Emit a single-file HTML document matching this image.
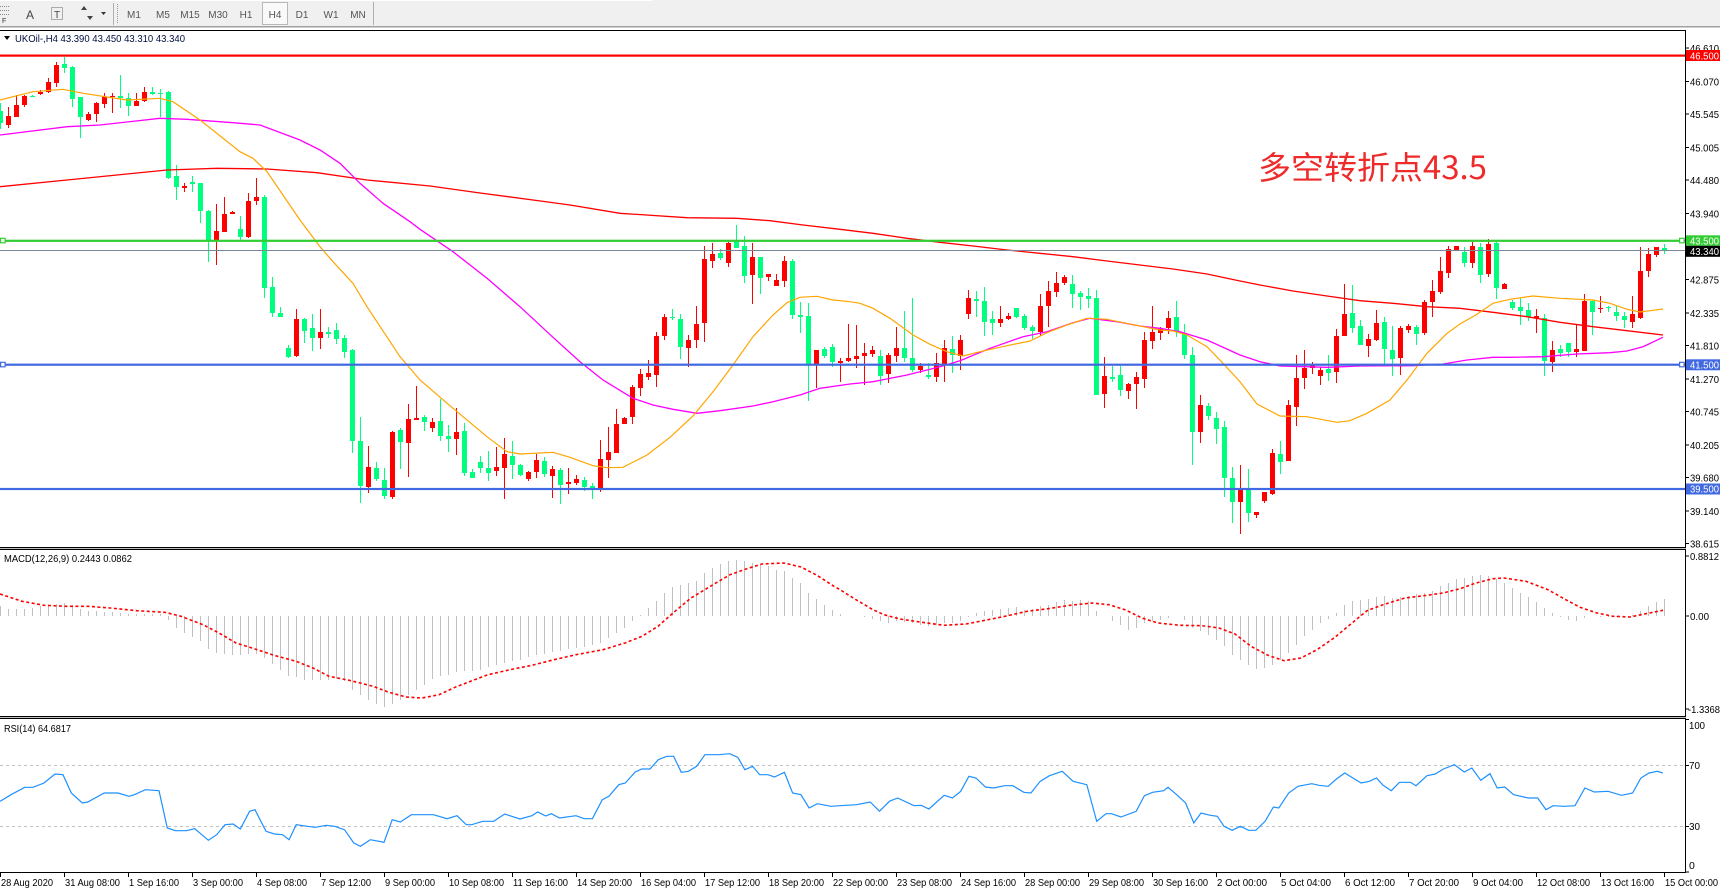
<!DOCTYPE html>
<html><head><meta charset="utf-8"><style>
html,body{margin:0;padding:0;background:#fff;overflow:hidden}
svg{display:block}
text{font-family:"Liberation Sans","Noto Sans CJK SC",sans-serif}
</style></head><body>
<svg width="1720" height="893" viewBox="0 0 1720 893" xmlns="http://www.w3.org/2000/svg">
<rect x="0" y="0" width="1720" height="893" fill="#fff"/>
<!-- toolbar -->
<rect x="0" y="0" width="1720" height="26" fill="#f0f0f0"/>
<rect x="0" y="0" width="652" height="1" fill="#fff"/>
<rect x="0" y="26" width="1720" height="1.5" fill="#a0a0a0"/>
<g stroke="#888" stroke-width="1" stroke-dasharray="1 1">
<path d="M0 6.5H9M0 10.5H9M0 14.5H9"/>
</g>
<text x="2" y="23" font-size="7" fill="#333">F</text>
<text x="26" y="19" font-size="12" fill="#444">A</text>
<rect x="51.5" y="7.5" width="11" height="12" fill="none" stroke="#666" stroke-dasharray="1 1"/>
<text x="54" y="18" font-size="10" fill="#444">T</text>
<path d="M84 6l3 4h-6zM90 20l3-4h-6z" fill="#444"/>
<path d="M101 12h5l-2.5 3z" fill="#333"/>
<path d="M113.5 3V25" stroke="#b0b0b0"/>
<path d="M117.5 4V24" stroke="#999" stroke-dasharray="1 1"/>
<rect x="262.5" y="2.5" width="25" height="22" fill="#f9f9f9" stroke="#b8b8b8"/>
<g font-size="10" fill="#555" text-anchor="middle">
<text x="134" y="18">M1</text><text x="163" y="18">M5</text><text x="190" y="18">M15</text><text x="218" y="18">M30</text><text x="246" y="18">H1</text><text x="275" y="18">H4</text><text x="302" y="18">D1</text><text x="331" y="18">W1</text><text x="358" y="18">MN</text>
</g>
<path d="M373.5 2V25" stroke="#b0b0b0"/>

<!-- frame -->
<path d="M0 30.5H1686" stroke="#000"/>
<path d="M1685.5 30V873" stroke="#000"/>
<path d="M0 547.5H1686M0 549.5H1686" stroke="#000"/>
<path d="M0 548.5H1686" stroke="#c0c0c0"/>
<path d="M0 716.5H1686M0 718.5H1686" stroke="#000"/>
<path d="M0 717.5H1686" stroke="#c0c0c0"/>
<path d="M0 872.5H1686" stroke="#000"/>

<!-- header label -->
<path d="M4 36h6l-3 4z" fill="#000"/>
<text x="15" y="42" font-size="10.5" fill="#001040" textLength="170" lengthAdjust="spacingAndGlyphs">UKOil-,H4  43.390 43.450 43.310 43.340</text>

<!-- candles red -->
<path stroke="#ff0000" stroke-width="1" fill="none" d="M8.5 107V128M16.5 95V117M24.5 95V107M40.5 90V95M48.5 78V93M56.5 62V87M88.5 112V121M96.5 102V122M104.5 93V108M112.5 93V113M136.5 93V106M144.5 87V102M184.5 183V192M216.5 204V265M224.5 197V232M232.5 211V214M248.5 193V238M256.5 178V205M296.5 309V357M320.5 309V349M368.5 446V493M392.5 431V499M408.5 404V477M416.5 386V420M432.5 418V432M456.5 408V455M496.5 447V476M504.5 438V499M528.5 471V481M536.5 454V478M552.5 466V498M568.5 468V494M576.5 475V485M600.5 440V492M608.5 427V478M616.5 409V453M624.5 417V424M632.5 385V424M640.5 369V396M648.5 360V380M656.5 332V387M664.5 314V340M688.5 335V367M696.5 306V348M704.5 246V342M712.5 243V268M728.5 242V267M752.5 243V304M768.5 274V281M776.5 274V286M784.5 256V287M816.5 350V388M840.5 358V382M848.5 324V362M856.5 325V368M864.5 343V385M872.5 346V357M888.5 353V383M896.5 327V362M920.5 363V373M936.5 353V382M944.5 340V382M960.5 335V370M968.5 290V319M1000.5 306V327M1008.5 313V320M1040.5 294V336M1048.5 281V327M1056.5 272V297M1064.5 275V285M1104.5 357V408M1128.5 383V399M1136.5 372V409M1144.5 332V388M1152.5 306V349M1160.5 327V340M1168.5 311V334M1200.5 395V443M1240.5 465V534M1256.5 512V518M1264.5 492V503M1272.5 449V495M1288.5 400V461M1296.5 355V426M1304.5 350V389M1312.5 362V374M1320.5 367V385M1336.5 329V383M1344.5 284V336M1368.5 334V357M1376.5 310V341M1400.5 326V375M1408.5 324V333M1424.5 300V335M1432.5 280V317M1440.5 257V294M1448.5 246V278M1456.5 246V251M1472.5 242V268M1488.5 239V277M1504.5 283V289M1536.5 309V333M1552.5 341V372M1576.5 324V357M1584.5 294V351M1600.5 296V313M1632.5 296V328M1640.5 247V319M1648.5 248V277M1656.5 247V257"/>
<path fill="#ff0000" d="M6 116h5V125h-5zM14 105h5V117h-5zM22 96h5V105h-5zM38 92h5V94h-5zM46 82h5V92h-5zM54 65h5V83h-5zM86 114h5V120h-5zM94 103h5V114h-5zM102 97h5V104h-5zM110 96h5V97h-5zM134 101h5V106h-5zM142 92h5V101h-5zM182 186h5V188h-5zM214 231h5V240h-5zM222 214h5V232h-5zM230 212h5V214h-5zM246 201h5V237h-5zM254 197h5V201h-5zM294 319h5V356h-5zM318 332h5V338h-5zM366 467h5V487h-5zM390 432h5V497h-5zM406 419h5V443h-5zM414 418h5V420h-5zM430 422h5V428h-5zM454 432h5V439h-5zM494 467h5V471h-5zM502 454h5V468h-5zM526 472h5V479h-5zM534 460h5V472h-5zM550 469h5V476h-5zM566 482h5V484h-5zM574 479h5V483h-5zM598 459h5V489h-5zM606 452h5V460h-5zM614 424h5V453h-5zM622 418h5V424h-5zM630 387h5V417h-5zM638 374h5V388h-5zM646 373h5V377h-5zM654 336h5V375h-5zM662 317h5V336h-5zM686 340h5V348h-5zM694 324h5V340h-5zM702 259h5V323h-5zM710 254h5V261h-5zM726 243h5V263h-5zM750 257h5V275h-5zM766 274h5V277h-5zM774 280h5V286h-5zM782 261h5V281h-5zM814 350h5V364h-5zM838 361h5V363h-5zM846 358h5V361h-5zM854 356h5V359h-5zM862 353h5V356h-5zM870 350h5V354h-5zM886 355h5V374h-5zM894 348h5V356h-5zM918 366h5V370h-5zM934 363h5V377h-5zM942 348h5V364h-5zM958 340h5V356h-5zM966 298h5V314h-5zM998 319h5V323h-5zM1006 316h5V319h-5zM1038 306h5V332h-5zM1046 291h5V306h-5zM1054 283h5V292h-5zM1062 277h5V283h-5zM1102 376h5V394h-5zM1126 384h5V391h-5zM1134 377h5V384h-5zM1142 340h5V379h-5zM1150 332h5V341h-5zM1158 328h5V333h-5zM1166 318h5V328h-5zM1198 405h5V432h-5zM1238 489h5V502h-5zM1254 512h5V515h-5zM1262 492h5V501h-5zM1270 453h5V494h-5zM1286 405h5V461h-5zM1294 378h5V407h-5zM1302 368h5V378h-5zM1310 365h5V368h-5zM1318 370h5V376h-5zM1334 336h5V372h-5zM1342 314h5V336h-5zM1366 339h5V346h-5zM1374 323h5V340h-5zM1398 328h5V358h-5zM1406 326h5V330h-5zM1422 302h5V333h-5zM1430 291h5V302h-5zM1438 271h5V292h-5zM1446 249h5V273h-5zM1454 246h5V250h-5zM1470 246h5V263h-5zM1486 244h5V274h-5zM1502 284h5V289h-5zM1534 316h5V318h-5zM1550 350h5V362h-5zM1574 349h5V352h-5zM1582 301h5V351h-5zM1598 308h5V309h-5zM1630 314h5V322h-5zM1638 271h5V318h-5zM1646 254h5V271h-5zM1654 247h5V255h-5z"/>
<!-- candles green -->
<path stroke="#00ff7f" stroke-width="1" fill="none" d="M0.5 103V129M32.5 95V97M64.5 57V73M72.5 66V107M80.5 97V138M120.5 75V108M128.5 93V116M152.5 87V95M160.5 89V117M168.5 91V179M176.5 165V200M192.5 176V192M200.5 183V223M208.5 210V262M240.5 216V240M264.5 195V298M272.5 277V317M280.5 307V317M288.5 345V358M304.5 318V343M312.5 314V351M328.5 327V338M336.5 323V344M344.5 335V358M352.5 349V453M360.5 417V503M376.5 462V481M384.5 468V499M400.5 428V469M424.5 415V431M440.5 399V441M448.5 425V452M464.5 423V476M472.5 469V478M480.5 456V473M488.5 451V481M512.5 441V479M520.5 464V476M544.5 457V477M560.5 468V504M584.5 477V491M592.5 483V499M672.5 309V320M680.5 314V359M720.5 249V260M736.5 225V248M744.5 236V283M760.5 257V294M792.5 259V319M800.5 302V333M808.5 303V401M824.5 347V358M832.5 344V367M880.5 350V385M904.5 311V362M912.5 298V372M928.5 363V379M952.5 336V373M976.5 291V317M984.5 287V336M992.5 311V335M1016.5 308V318M1024.5 314V330M1032.5 325V339M1072.5 275V308M1080.5 291V310M1088.5 288V308M1096.5 290V395M1112.5 366V382M1120.5 366V396M1176.5 301V337M1184.5 324V359M1192.5 347V465M1208.5 403V420M1216.5 412V444M1224.5 421V497M1232.5 467V523M1248.5 469V522M1280.5 441V474M1328.5 355V381M1352.5 285V333M1360.5 320V345M1384.5 317V364M1392.5 326V376M1416.5 325V345M1464.5 247V267M1480.5 243V283M1496.5 242V299M1512.5 300V310M1520.5 298V325M1528.5 303V321M1544.5 314V376M1560.5 345V357M1568.5 343V357M1592.5 300V335M1608.5 306V312M1616.5 305V321M1624.5 312V328M1664.5 244V254"/>
<path fill="#00ff7f" d="M-2 111h5V123h-5zM30 96h5V97h-5zM62 64h5V68h-5zM70 67h5V99h-5zM78 97h5V117h-5zM118 96h5V98h-5zM126 98h5V106h-5zM150 92h5V94h-5zM158 93h5V94h-5zM166 92h5V178h-5zM174 176h5V187h-5zM190 182h5V184h-5zM198 183h5V211h-5zM206 211h5V240h-5zM238 229h5V237h-5zM262 197h5V288h-5zM270 287h5V313h-5zM278 313h5V317h-5zM286 348h5V357h-5zM302 319h5V331h-5zM310 328h5V338h-5zM326 332h5V334h-5zM334 330h5V339h-5zM342 338h5V352h-5zM350 350h5V441h-5zM358 441h5V486h-5zM374 468h5V479h-5zM382 480h5V496h-5zM398 430h5V442h-5zM422 417h5V422h-5zM438 421h5V436h-5zM446 436h5V439h-5zM462 431h5V473h-5zM470 472h5V478h-5zM478 462h5V468h-5zM486 468h5V473h-5zM510 456h5V465h-5zM518 465h5V475h-5zM542 461h5V474h-5zM558 470h5V485h-5zM582 480h5V487h-5zM590 486h5V489h-5zM670 317h5V318h-5zM678 319h5V347h-5zM718 253h5V258h-5zM734 241h5V248h-5zM742 246h5V276h-5zM758 257h5V278h-5zM790 261h5V315h-5zM798 315h5V317h-5zM806 316h5V364h-5zM822 349h5V356h-5zM830 347h5V362h-5zM878 356h5V376h-5zM902 348h5V358h-5zM910 358h5V370h-5zM926 375h5V377h-5zM950 349h5V355h-5zM974 299h5V301h-5zM982 301h5V322h-5zM990 319h5V323h-5zM1014 308h5V317h-5zM1022 316h5V328h-5zM1030 327h5V331h-5zM1070 284h5V294h-5zM1078 293h5V297h-5zM1086 296h5V299h-5zM1094 298h5V395h-5zM1110 377h5V379h-5zM1118 375h5V390h-5zM1174 317h5V332h-5zM1182 333h5V355h-5zM1190 355h5V432h-5zM1206 406h5V416h-5zM1214 418h5V429h-5zM1222 427h5V478h-5zM1230 478h5V502h-5zM1246 489h5V513h-5zM1278 454h5V462h-5zM1326 369h5V373h-5zM1350 313h5V328h-5zM1358 326h5V345h-5zM1382 322h5V349h-5zM1390 350h5V359h-5zM1414 327h5V334h-5zM1462 252h5V263h-5zM1478 247h5V275h-5zM1494 243h5V288h-5zM1510 302h5V308h-5zM1518 307h5V311h-5zM1526 310h5V317h-5zM1542 318h5V361h-5zM1558 349h5V353h-5zM1566 343h5V352h-5zM1590 301h5V312h-5zM1606 307h5V308h-5zM1614 312h5V316h-5zM1622 316h5V320h-5zM1662 248h5V251h-5z"/>

<!-- moving averages -->
<polyline fill="none" stroke="#ff0000" stroke-width="1.3" points="0,186.7 67,180 117,175 167,170 217,168.3 267,169 317,172.7 367,180 430,186 480,193 533,200 570,205 620,213.3 687,217.7 737,218.3 770,220.7 803,225 840,229.3 873,233.3 907,238.3 940,242.3 973,246 1007,250 1040,253.3 1073,256.7 1107,261 1140,265 1173,269 1207,274 1240,281 1260,285 1293,291 1327,296 1360,300.7 1393,303.3 1427,306.7 1460,308.3 1493,312.3 1527,316.7 1560,322.3 1593,326.7 1627,330.7 1663,335"/>
<polyline fill="none" stroke="#ff00ff" stroke-width="1.3" points="0,135 67,126.7 100,125 160,118.3 187,119.3 233,122.7 260,125 300,140 320,150 340,163.3 360,183.3 383,203.3 410,221.7 420,229.3 453,251.7 487,278.3 520,306.7 553,337.3 580,361.7 603,380 633,398.3 653,405 673,409.3 697,413.3 720,410.7 753,406 773,401.7 800,395 820,388.3 850,384 873,381.7 907,375 940,366.7 960,360.7 990,348.3 1023,336.7 1047,331.7 1073,322.7 1090,318.3 1117,321.7 1140,326 1160,328.3 1180,331.7 1207,340 1240,355 1260,361.7 1280,366 1327,367.3 1360,366 1413,365.7 1443,364 1467,360 1493,357.3 1510,357.3 1543,356.7 1577,354 1610,352.7 1627,351 1643,346.7 1663,337.3"/>
<polyline fill="none" stroke="#ffa500" stroke-width="1.2" points="0,100 33,91.7 63,89.3 83,93.3 127,100 160,98.3 173,101.7 200,120 240,151.7 253,158.3 267,171.7 300,220 320,246.7 333,261.7 353,283.3 367,306.7 400,356.7 420,380 453,408.3 487,436.7 507,451.7 520,454 553,452.3 570,457.3 593,465.7 607,467.7 623,467.3 647,455 670,437.3 693,416 713,391.7 733,365 753,336.7 773,315 787,302.7 800,297.3 817,296.3 833,300 850,301.7 860,303.3 873,308.3 890,318.3 913,335 930,344.3 947,351.7 963,356 980,351.7 1007,345.7 1030,341 1047,332.7 1067,325 1087,318.3 1107,319.3 1123,322.7 1140,326 1160,330 1173,331 1187,335 1207,346.7 1223,363.3 1240,381.7 1257,404 1280,416 1307,416.7 1337,422.3 1350,420.7 1367,413.3 1390,400 1407,380 1427,353.3 1447,333.3 1460,324 1477,314.3 1493,303.3 1510,299.3 1533,296 1560,298.3 1593,300 1610,303.3 1627,309.3 1640,312 1663,309"/>

<!-- horizontal lines -->
<rect x="0" y="54.5" width="1685" height="2.2" fill="#ff0000"/>
<rect x="0" y="239.7" width="1685" height="2.2" fill="#32cd32"/>
<rect x="0" y="250" width="1685" height="1" fill="#778899"/>
<rect x="0" y="363.6" width="1685" height="2.2" fill="#4169e1"/>
<rect x="0" y="487.9" width="1685" height="2.2" fill="#4169e1"/>
<g fill="#fff" stroke-width="1.2">
<rect x="0.6" y="238.3" width="4.5" height="4.5" stroke="#32cd32"/>
<rect x="1679.6" y="238.3" width="4.5" height="4.5" stroke="#32cd32"/>
<rect x="0.6" y="362.3" width="4.5" height="4.5" stroke="#4169e1"/>
<rect x="1679.6" y="362.3" width="4.5" height="4.5" stroke="#4169e1"/>
</g>

<!-- annotation -->
<text x="1258" y="179" font-size="32" fill="#ee2a2a" textLength="229" lengthAdjust="spacingAndGlyphs" style='font-family:"Noto Sans CJK SC","Liberation Sans",sans-serif'>多空转折点43.5</text>

<!-- price axis -->
<path stroke="#000" d="M1685 48h4M1685 81.5h4M1685 114h4M1685 147.5h4M1685 180h4M1685 213.5h4M1685 279.5h4M1685 313h4M1685 345.5h4M1685 379h4M1685 411.5h4M1685 445h4M1685 477.5h4M1685 511h4M1685 543.5h4"/>
<g font-size="10.5" fill="#000">
<text x="1690" y="52" textLength="29" lengthAdjust="spacingAndGlyphs">46.610</text>
<text x="1690" y="85.5" textLength="29" lengthAdjust="spacingAndGlyphs">46.070</text>
<text x="1690" y="118" textLength="29" lengthAdjust="spacingAndGlyphs">45.545</text>
<text x="1690" y="151.5" textLength="29" lengthAdjust="spacingAndGlyphs">45.005</text>
<text x="1690" y="184" textLength="29" lengthAdjust="spacingAndGlyphs">44.480</text>
<text x="1690" y="217.5" textLength="29" lengthAdjust="spacingAndGlyphs">43.940</text>
<text x="1690" y="283.5" textLength="29" lengthAdjust="spacingAndGlyphs">42.875</text>
<text x="1690" y="317" textLength="29" lengthAdjust="spacingAndGlyphs">42.335</text>
<text x="1690" y="349.5" textLength="29" lengthAdjust="spacingAndGlyphs">41.810</text>
<text x="1690" y="383" textLength="29" lengthAdjust="spacingAndGlyphs">41.270</text>
<text x="1690" y="415.5" textLength="29" lengthAdjust="spacingAndGlyphs">40.745</text>
<text x="1690" y="449" textLength="29" lengthAdjust="spacingAndGlyphs">40.205</text>
<text x="1690" y="481.5" textLength="29" lengthAdjust="spacingAndGlyphs">39.680</text>
<text x="1690" y="515" textLength="29" lengthAdjust="spacingAndGlyphs">39.140</text>
<text x="1690" y="547.5" textLength="29" lengthAdjust="spacingAndGlyphs">38.615</text>
</g>
<rect x="1686" y="50" width="34" height="11" fill="#ff0000"/>
<rect x="1686" y="235.3" width="34" height="10.5" fill="#32cd32"/>
<rect x="1686" y="245.8" width="34" height="11" fill="#000"/>
<rect x="1686" y="359.3" width="34" height="11" fill="#4169e1"/>
<rect x="1686" y="483.5" width="34" height="11" fill="#4169e1"/>
<g font-size="10.5" fill="#fff">
<text x="1690" y="59.5" textLength="29" lengthAdjust="spacingAndGlyphs">46.500</text>
<text x="1690" y="244.5" textLength="29" lengthAdjust="spacingAndGlyphs">43.500</text>
<text x="1690" y="255" textLength="29" lengthAdjust="spacingAndGlyphs">43.340</text>
<text x="1690" y="368.5" textLength="29" lengthAdjust="spacingAndGlyphs">41.500</text>
<text x="1690" y="492.7" textLength="29" lengthAdjust="spacingAndGlyphs">39.500</text>
</g>

<!-- MACD -->
<text x="4" y="562" font-size="10.5" fill="#000" textLength="128" lengthAdjust="spacingAndGlyphs">MACD(12,26,9) 0.2443 0.0862</text>
<path stroke="#c0c0c0" stroke-width="1" fill="none" d="M.5 616V606M8.5 616V609M16.5 616V609M24.5 616V609M32.5 616V608M40.5 616V606M48.5 616V605M56.5 616V604M64.5 616V603M72.5 616V605M80.5 616V609M88.5 616V611M96.5 616V611M104.5 616V612M112.5 616V612M120.5 616V613M128.5 616V614M136.5 616V614M144.5 616V614M152.5 616V614M160.5 616V614M168.5 616V620M176.5 616V628M184.5 616V633M192.5 616V637M200.5 616V641M208.5 616V649M216.5 616V653M224.5 616V654M232.5 616V655M240.5 616V655M248.5 616V654M256.5 616V654M264.5 616V658M272.5 616V664M280.5 616V670M288.5 616V676M296.5 616V677M304.5 616V680M312.5 616V680M320.5 616V680M328.5 616V680M336.5 616V679M344.5 616V681M352.5 616V690M360.5 616V695M368.5 616V700M376.5 616V704M384.5 616V707M392.5 616V704M400.5 616V700M408.5 616V695M416.5 616V690M424.5 616V685M432.5 616V679M440.5 616V676M448.5 616V675M456.5 616V672M464.5 616V671M472.5 616V671M480.5 616V670M488.5 616V667M496.5 616V665M504.5 616V663M512.5 616V661M520.5 616V660M528.5 616V657M536.5 616V655M544.5 616V654M552.5 616V652M560.5 616V651M568.5 616V649M576.5 616V648M584.5 616V647M592.5 616V645M600.5 616V643M608.5 616V638M616.5 616V633M624.5 616V628M632.5 616V621M640.5 616V615M648.5 616V608M656.5 616V601M664.5 616V593M672.5 616V587M680.5 616V585M688.5 616V583M696.5 616V581M704.5 616V573M712.5 616V568M720.5 616V564M728.5 616V561M736.5 616V560M744.5 616V561M752.5 616V563M760.5 616V565M768.5 616V566M776.5 616V570M784.5 616V571M792.5 616V578M800.5 616V583M808.5 616V593M816.5 616V599M824.5 616V605M832.5 616V610M840.5 616V614M864.5 616V617M872.5 616V619M880.5 616V621M888.5 616V623M896.5 616V621M904.5 616V622M912.5 616V623M920.5 616V625M928.5 616V626M936.5 616V625M944.5 616V623M952.5 616V623M960.5 616V621M968.5 616V617M976.5 616V613M984.5 616V611M992.5 616V610M1000.5 616V609M1008.5 616V608M1016.5 616V607M1024.5 616V610M1032.5 616V609M1040.5 616V606M1048.5 616V605M1056.5 616V602M1064.5 616V600M1072.5 616V601M1080.5 616V600M1088.5 616V601M1096.5 616V611M1112.5 616V621M1120.5 616V625M1128.5 616V630M1136.5 616V628M1144.5 616V623M1152.5 616V621M1160.5 616V620M1168.5 616V618M1184.5 616V620M1192.5 616V628M1200.5 616V631M1208.5 616V635M1216.5 616V640M1224.5 616V646M1232.5 616V655M1240.5 616V660M1248.5 616V665M1256.5 616V669M1264.5 616V668M1272.5 616V665M1280.5 616V660M1288.5 616V653M1296.5 616V645M1304.5 616V636M1312.5 616V630M1320.5 616V623M1328.5 616V619M1336.5 616V613M1344.5 616V605M1352.5 616V601M1360.5 616V600M1368.5 616V599M1376.5 616V597M1384.5 616V596M1392.5 616V598M1400.5 616V597M1408.5 616V596M1416.5 616V594M1424.5 616V593M1432.5 616V591M1440.5 616V586M1448.5 616V583M1456.5 616V579M1464.5 616V578M1472.5 616V576M1480.5 616V575M1488.5 616V576M1496.5 616V579M1504.5 616V583M1512.5 616V588M1520.5 616V593M1528.5 616V597M1536.5 616V602M1544.5 616V608M1552.5 616V613M1560.5 616V617M1568.5 616V620M1576.5 616V621M1584.5 616V618M1600.5 616V617M1608.5 616V617M1616.5 616V617M1632.5 616V615M1640.5 616V611M1648.5 616V606M1656.5 616V602M1664.5 616V599"/>
<polyline fill="none" stroke="#ff0000" stroke-width="1.6" stroke-dasharray="3 2.5" points="0,594 22,601.3 44,605.3 66,606.3 88,606.3 110,608 137,610.7 165,612.3 181,616.3 203,624.7 219,633 236,643 252,648 274,655.3 296,661.3 313,668 329,676.3 351,680.7 373,686.3 389,692.3 406,697 422,698 439,694.7 455,687.3 472,680.7 488,674.7 510,669.7 532,665.3 554,659.7 576,654.7 603,649.7 625,643 642,636.3 658,626.3 675,611.3 691,598 713,584.7 730,574.7 746,569 762,564 784,563 801,567 817,575.3 834,586.3 840,589.7 856,599.7 873,609.7 884,614.7 900,619 922,622.3 944,625.3 966,624 983,620.7 1005,616.3 1027,611.3 1048,608.7 1070,605.3 1092,603 1109,604.7 1125,609.7 1142,618 1158,623 1180,625.3 1202,625.7 1219,628 1235,634 1251,646.3 1268,655.3 1284,660.7 1301,658 1317,649.7 1334,638 1350,624.7 1367,610.7 1383,604.7 1405,598 1427,595.3 1443,593 1460,588.7 1476,583 1493,578.7 1504,578 1526,581.3 1548,589.7 1564,598.7 1580,607.3 1597,613 1613,616.3 1630,617 1646,613.7 1663,610.3"/>
<path stroke="#000" d="M1685 556h4M1685 616h4M1685 709h4"/>
<g font-size="10.5" fill="#000">
<text x="1690" y="560" textLength="29" lengthAdjust="spacingAndGlyphs">0.8812</text>
<text x="1690" y="620" textLength="19" lengthAdjust="spacingAndGlyphs">0.00</text>
<text x="1688" y="713" textLength="32" lengthAdjust="spacingAndGlyphs">-1.3368</text>
</g>

<!-- RSI -->
<text x="4" y="732" font-size="10.5" fill="#000" textLength="67" lengthAdjust="spacingAndGlyphs">RSI(14) 64.6817</text>
<path d="M0 765.5H1685M0 826.5H1685" stroke="#c0c0c0" stroke-dasharray="3 3"/>
<polyline fill="none" stroke="#1e90ff" stroke-width="1.2" points="0,801.3 11,794.7 24.7,787.3 33,787.3 44,783 55,774 63,774.7 71.3,793 82.3,803 87.8,802 104.2,793 118,793 129,796.3 134.4,794.7 145.4,789.7 159,790.7 167.3,828 175.5,830.7 186.5,830.7 194.7,828.7 208.4,840.3 216.7,834.7 225,824.7 233.1,824 240.3,829 249.6,811.3 255,809.7 266,831.3 274.3,834 282.5,834.7 289.1,839.7 296.2,824.7 307.2,826.3 315.4,827.3 326.4,825.3 334.6,826.3 344.5,829.7 353.8,843 360.4,846.3 370.3,839.7 384,842.3 392.2,819.7 400.4,822 411.4,814.7 433.4,814.7 447.1,818.7 457,815.7 466.3,824.7 471.7,824.7 482.7,821.3 493.7,821.3 504.7,814 520,819 532,815.7 537.6,812 545.8,816 551.3,813.7 559.5,818 576,815.7 584.2,818.7 592.4,818.7 602.3,799.7 608.9,796.3 618.8,784.7 625.3,783 635.2,772 641.8,769 650,769 658.3,759.7 666.5,756.3 673.6,756.3 681.3,772.3 688.4,771.3 696.7,766.3 704.9,754.7 718.6,754.7 729.6,753.7 737.8,757.3 744.9,769.7 752.6,766.3 759.7,774.7 768,774.7 774.5,777 784.4,772.3 792.6,793 800.9,794.7 809.1,808 817.3,803.7 831,806.3 840,805.7 856.5,804.7 870.2,802 879.5,811.3 889.4,801.3 897.6,798 914,805.7 921.2,805.3 928.9,809 944.2,795.3 952.5,798 960.7,791.3 968.9,776.3 976,778 985.4,787 993.6,788 1004.6,785.7 1012.8,785.7 1023.8,792.3 1030.9,793 1040.2,781.3 1049.5,775.7 1062.2,771.3 1073.1,781.3 1086.8,784.7 1096.7,821.3 1106,813.7 1111.5,813.7 1120.9,817 1136.2,811.3 1144.4,795.7 1152.7,792.3 1163.6,790.7 1168,787.3 1177.4,795.3 1185.6,803 1193.8,823 1201,813 1210.3,815.3 1217.4,816.3 1224,826.3 1232.2,830.3 1240.4,826.3 1248.7,830.3 1255.8,830.3 1265.1,821.3 1273.4,807 1278.8,808 1288.7,793 1298,786.3 1311.8,783.7 1318.9,785.3 1328.2,786.3 1336.4,779 1344.7,773 1352.9,778 1361.1,783 1369.4,781.3 1376.5,778 1383.1,785.3 1391.3,790.7 1399.5,782.3 1410.5,782.3 1416,785.7 1427,775.7 1435.2,774 1443.4,769 1454.4,764.7 1464.2,772 1471.9,768 1480.7,780.3 1490,773.7 1497.2,788 1504.8,787 1513.6,794.7 1528.4,798 1537.7,798 1546,809.7 1553.1,805.7 1564.1,806.3 1575,805.7 1584.9,788 1594.3,792 1608,791.3 1621.7,795.3 1632.6,793 1640.9,778 1649.1,773 1657.3,771.3 1662.8,773"/>
<path stroke="#000" d="M1685 719.5h4M1685 765.5h4M1685 826.5h4M1685 872h4"/>
<g font-size="10.5" fill="#000">
<text x="1689" y="729" textLength="16" lengthAdjust="spacingAndGlyphs">100</text>
<text x="1689" y="769" textLength="11" lengthAdjust="spacingAndGlyphs">70</text>
<text x="1689" y="830" textLength="11" lengthAdjust="spacingAndGlyphs">30</text>
<text x="1689" y="869">0</text>
</g>

<!-- time axis -->
<path stroke="#000" d="M.5 872V877M64.5 872V877M128.5 872V877M192.5 872V877M256.5 872V877M320.5 872V877M384.5 872V877M448.5 872V877M512.5 872V877M576.5 872V877M640.5 872V877M704.5 872V877M768.5 872V877M832.5 872V877M896.5 872V877M960.5 872V877M1024.5 872V877M1088.5 872V877M1152.5 872V877M1216.5 872V877M1280.5 872V877M1344.5 872V877M1408.5 872V877M1472.5 872V877M1536.5 872V877M1600.5 872V877M1664.5 872V877"/>
<g font-size="10.5" fill="#000">
<text x="1" y="886" textLength="52" lengthAdjust="spacingAndGlyphs">28 Aug 2020</text>
<text x="65" y="886" textLength="55" lengthAdjust="spacingAndGlyphs">31 Aug 08:00</text>
<text x="129" y="886" textLength="50" lengthAdjust="spacingAndGlyphs">1 Sep 16:00</text>
<text x="193" y="886" textLength="50" lengthAdjust="spacingAndGlyphs">3 Sep 00:00</text>
<text x="257" y="886" textLength="50" lengthAdjust="spacingAndGlyphs">4 Sep 08:00</text>
<text x="321" y="886" textLength="50" lengthAdjust="spacingAndGlyphs">7 Sep 12:00</text>
<text x="385" y="886" textLength="50" lengthAdjust="spacingAndGlyphs">9 Sep 00:00</text>
<text x="449" y="886" textLength="55" lengthAdjust="spacingAndGlyphs">10 Sep 08:00</text>
<text x="513" y="886" textLength="55" lengthAdjust="spacingAndGlyphs">11 Sep 16:00</text>
<text x="577" y="886" textLength="55" lengthAdjust="spacingAndGlyphs">14 Sep 20:00</text>
<text x="641" y="886" textLength="55" lengthAdjust="spacingAndGlyphs">16 Sep 04:00</text>
<text x="705" y="886" textLength="55" lengthAdjust="spacingAndGlyphs">17 Sep 12:00</text>
<text x="769" y="886" textLength="55" lengthAdjust="spacingAndGlyphs">18 Sep 20:00</text>
<text x="833" y="886" textLength="55" lengthAdjust="spacingAndGlyphs">22 Sep 00:00</text>
<text x="897" y="886" textLength="55" lengthAdjust="spacingAndGlyphs">23 Sep 08:00</text>
<text x="961" y="886" textLength="55" lengthAdjust="spacingAndGlyphs">24 Sep 16:00</text>
<text x="1025" y="886" textLength="55" lengthAdjust="spacingAndGlyphs">28 Sep 00:00</text>
<text x="1089" y="886" textLength="55" lengthAdjust="spacingAndGlyphs">29 Sep 08:00</text>
<text x="1153" y="886" textLength="55" lengthAdjust="spacingAndGlyphs">30 Sep 16:00</text>
<text x="1217" y="886" textLength="50" lengthAdjust="spacingAndGlyphs">2 Oct 00:00</text>
<text x="1281" y="886" textLength="50" lengthAdjust="spacingAndGlyphs">5 Oct 04:00</text>
<text x="1345" y="886" textLength="50" lengthAdjust="spacingAndGlyphs">6 Oct 12:00</text>
<text x="1409" y="886" textLength="50" lengthAdjust="spacingAndGlyphs">7 Oct 20:00</text>
<text x="1473" y="886" textLength="50" lengthAdjust="spacingAndGlyphs">9 Oct 04:00</text>
<text x="1537" y="886" textLength="53" lengthAdjust="spacingAndGlyphs">12 Oct 08:00</text>
<text x="1601" y="886" textLength="53" lengthAdjust="spacingAndGlyphs">13 Oct 16:00</text>
<text x="1665" y="886" textLength="53" lengthAdjust="spacingAndGlyphs">15 Oct 00:00</text>
</g>
</svg>
</body></html>
